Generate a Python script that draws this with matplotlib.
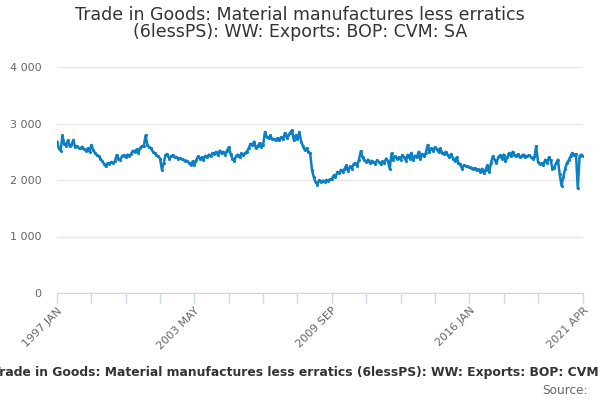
import matplotlib.pyplot as plt

# Monthly values, 1997 JAN .. 2021 APR (£ million, CVM, SA)
y1997 = [2680, 2560, 2520, 2790, 2640, 2610, 2700, 2600, 2620, 2710, 2590, 2600]
y1998 = [2570, 2560, 2590, 2540, 2520, 2560, 2500, 2620, 2530, 2480, 2440, 2420]
y1999 = [2380, 2330, 2290, 2240, 2300, 2290, 2320, 2300, 2330, 2440, 2380, 2360]
y2000 = [2420, 2440, 2400, 2450, 2430, 2460, 2520, 2500, 2540, 2480, 2570, 2600]
y2001 = [2600, 2790, 2620, 2580, 2560, 2500, 2470, 2440, 2420, 2380, 2180, 2300]
y2002 = [2440, 2460, 2380, 2420, 2440, 2400, 2410, 2380, 2390, 2370, 2360, 2340]
y2003 = [2340, 2300, 2270, 2330, 2260, 2350, 2420, 2380, 2400, 2360, 2430, 2400]
y2004 = [2450, 2420, 2480, 2460, 2500, 2440, 2520, 2470, 2500, 2450, 2520, 2580]
y2005 = [2460, 2380, 2340, 2420, 2450, 2400, 2470, 2440, 2480, 2500, 2560, 2640]
y2006 = [2620, 2680, 2560, 2600, 2650, 2590, 2620, 2850, 2760, 2740, 2790, 2720]
y2007 = [2720, 2700, 2740, 2700, 2760, 2720, 2830, 2750, 2790, 2840, 2880, 2700]
y2008 = [2790, 2720, 2850, 2680, 2600, 2530, 2560, 2500, 2480, 2180, 2050, 1960]
y2009 = [1920, 2000, 1960, 1990, 1970, 2000, 1990, 2010, 2020, 2080, 2050, 2140]
y2010 = [2120, 2180, 2140, 2200, 2260, 2160, 2240, 2200, 2280, 2300, 2250, 2360]
y2011 = [2510, 2400, 2350, 2320, 2360, 2300, 2340, 2310, 2290, 2350, 2320, 2280]
y2012 = [2330, 2300, 2380, 2340, 2200, 2470, 2360, 2420, 2380, 2400, 2360, 2440]
y2013 = [2400, 2340, 2450, 2380, 2480, 2350, 2430, 2400, 2500, 2380, 2460, 2420]
y2014 = [2480, 2620, 2500, 2560, 2520, 2580, 2540, 2500, 2560, 2480, 2460, 2500]
y2015 = [2440, 2400, 2460, 2380, 2340, 2400, 2300, 2280, 2200, 2260, 2250, 2240]
y2016 = [2230, 2220, 2200, 2210, 2170, 2190, 2150, 2200, 2120, 2180, 2260, 2140]
y2017 = [2300, 2420, 2360, 2300, 2400, 2440, 2380, 2450, 2330, 2400, 2480, 2420]
y2018 = [2500, 2440, 2420, 2460, 2400, 2430, 2450, 2400, 2420, 2440, 2410, 2380]
y2019 = [2400, 2600, 2320, 2280, 2300, 2260, 2360, 2300, 2400, 2350, 2200, 2220]
y2020 = [2300, 2360, 2100, 1900, 2050, 2200, 2300, 2350, 2420, 2480, 2440, 2460]
y2021 = [1850, 2420, 2450, 2430]

values = (y1997 + y1998 + y1999 + y2000 + y2001 + y2002 + y2003 + y2004 + y2005
          + y2006 + y2007 + y2008 + y2009 + y2010 + y2011 + y2012 + y2013 + y2014
          + y2015 + y2016 + y2017 + y2018 + y2019 + y2020 + y2021)

month_names = ['JAN', 'FEB', 'MAR', 'APR', 'MAY', 'JUN',
               'JUL', 'AUG', 'SEP', 'OCT', 'NOV', 'DEC']
months = ['%d %s' % (1997 + i // 12, month_names[i % 12]) for i in range(len(values))]

labelled = ['1997 JAN', '2003 MAY', '2009 SEP', '2016 JAN', '2021 APR']
y_ticks = [0, 1000, 2000, 3000, 4000]
y_labels = ['0', '1 000', '2 000', '3 000', '4 000']

title = ('Trade in Goods: Material manufactures less erratics\n'
         '(6lessPS): WW: Exports: BOP: CVM: SA')
caption = 'Trade in Goods: Material manufactures less erratics (6lessPS): WW: Exports: BOP: CVM: SA'

fig = plt.figure(figsize=(6, 4), dpi=100)
ax = fig.add_axes([0.095, 0.2675, 0.877, 0.565])

x = list(range(len(values)))
ax.plot(x, values, color='#0a7fc4', lw=1.8, marker='o', ms=2.2, mew=0)

ax.set_xlim(0, len(values) - 1)
ax.set_ylim(0, 4000)

# y axis: gridlines only
ax.set_yticks(y_ticks)
ax.set_yticklabels(y_labels, color='#666666', fontsize=8)
ax.grid(axis='y', color='#e6e6e6', lw=1)
ax.tick_params(axis='y', length=0, pad=11)
ax.set_axisbelow(True)

# x axis: tick every 19 months, last tick at the end
tick_pos = list(range(0, len(values) - 19, 19)) + [len(values) - 1]
ax.set_xticks(tick_pos)
ax.set_xticklabels([months[p] if months[p] in labelled else '' for p in tick_pos],
                   rotation=45, ha='right', rotation_mode='anchor',
                   color='#666666', fontsize=8)
ax.tick_params(axis='x', length=7, color='#ccd6eb', width=1, pad=2)

for side in ['top', 'right', 'left']:
    ax.spines[side].set_visible(False)
ax.spines['bottom'].set_color('#ccd6eb')

fig.text(0.5, 0.985, title, ha='center', va='top', fontsize=12.5, color='#333333',
         linespacing=0.95)
fig.text(-0.0135, 0.068, caption, ha='left', va='center', fontsize=8.9,
         fontweight='bold', color='#333333')
fig.text(0.98, 0.025, 'Source:', ha='right', va='center', fontsize=8.7, color='#666666')

fig.savefig('out.png')
